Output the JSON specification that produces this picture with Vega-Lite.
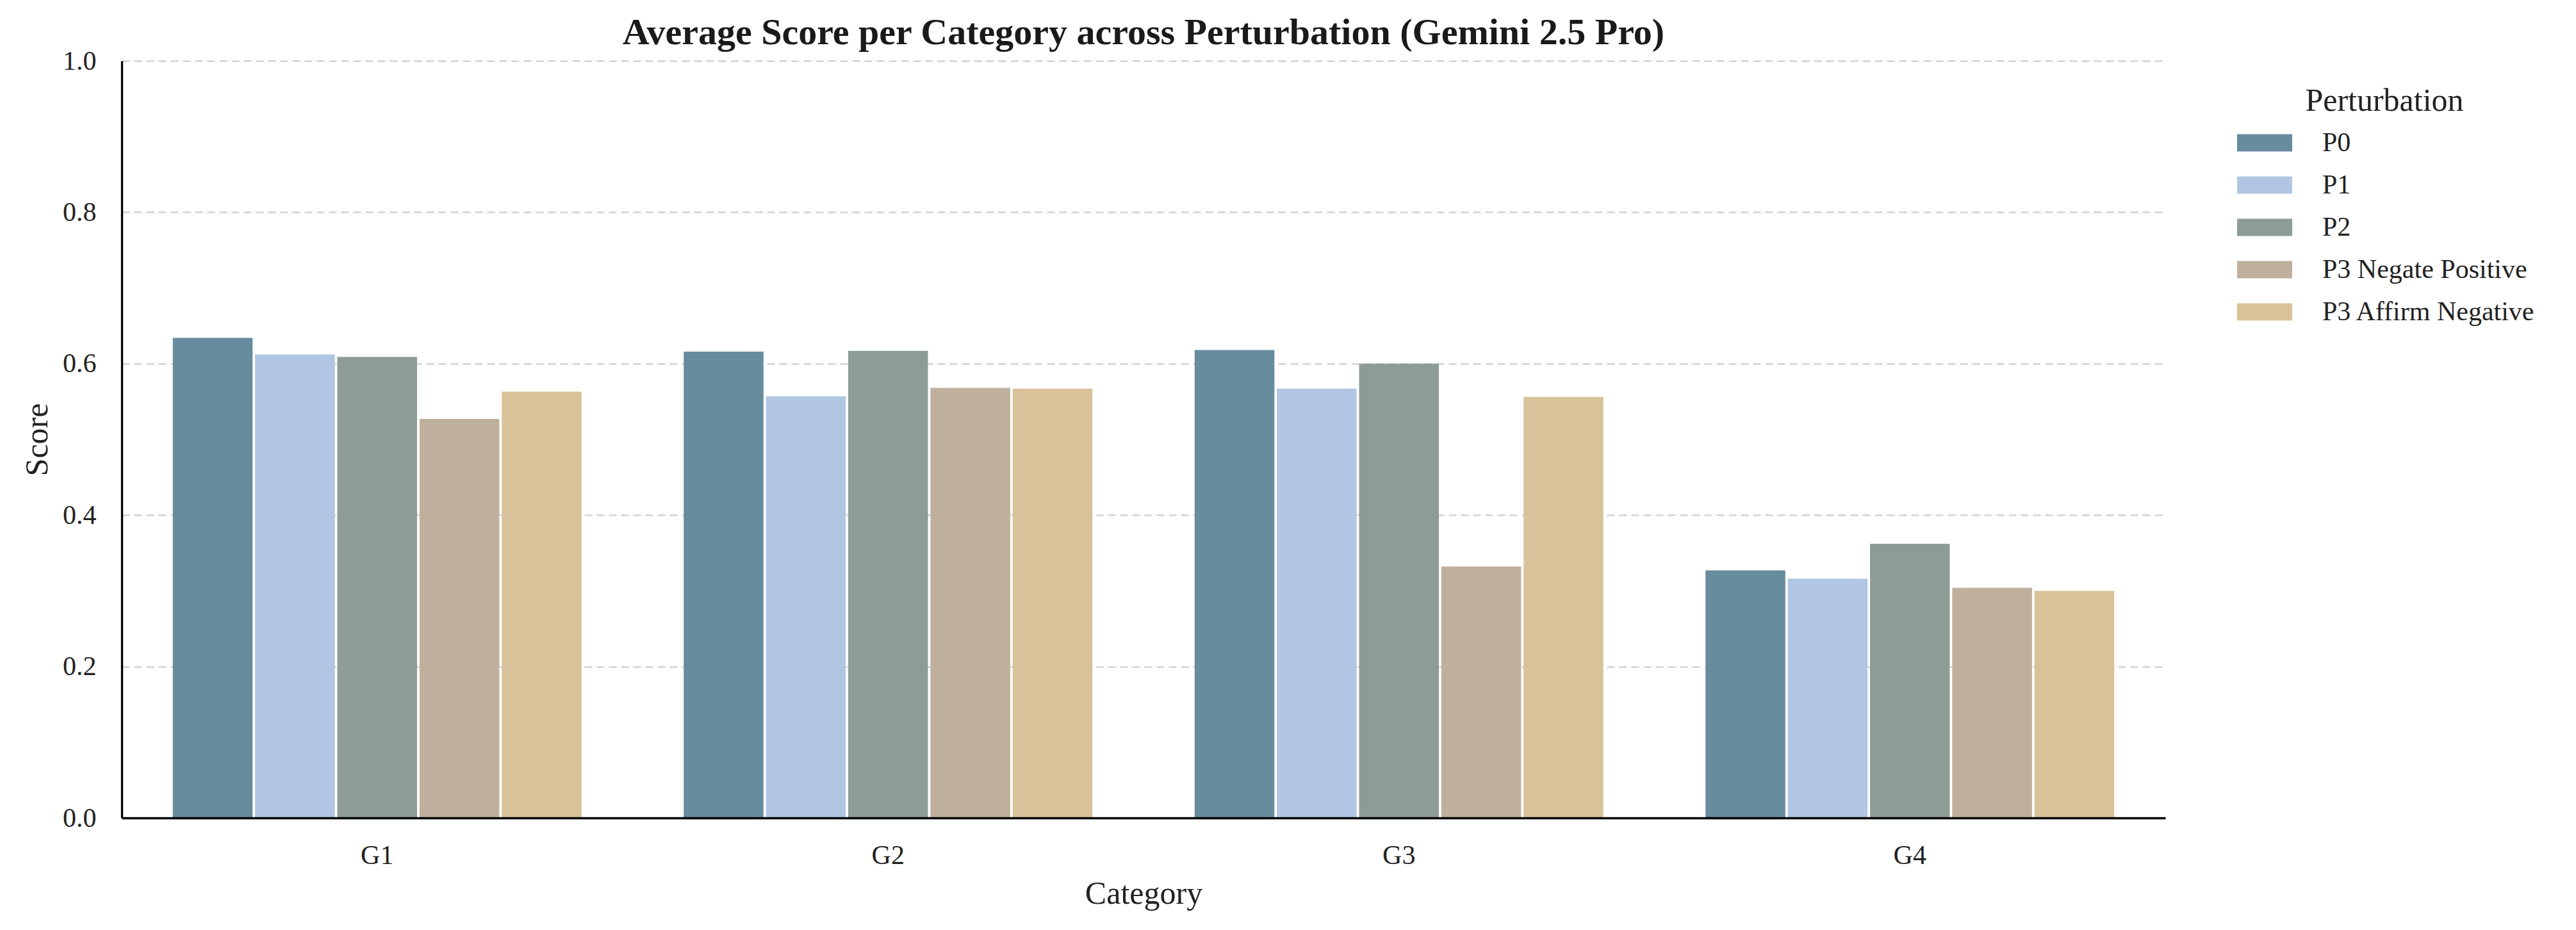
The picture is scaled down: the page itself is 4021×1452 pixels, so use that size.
{
  "$schema": "https://vega.github.io/schema/vega-lite/v6.json",
  "width": 3190,
  "height": 1182,
  "autosize": {"type": "none"},
  "padding": {"left": 190, "top": 95, "right": 641, "bottom": 175},
  "background": "white",
  "title": {
    "text": "Average Score per Category across Perturbation (Gemini 2.5 Pro)",
    "font": "Liberation Serif",
    "fontSize": 58,
    "fontWeight": "bold",
    "color": "#1a1a1a",
    "anchor": "middle",
    "offset": 13,
    "dy": 20
  },
  "data": {
    "values": [
      {"Category": "G1", "Perturbation": "P0", "Score": 0.634},
      {"Category": "G1", "Perturbation": "P1", "Score": 0.612},
      {"Category": "G1", "Perturbation": "P2", "Score": 0.609},
      {"Category": "G1", "Perturbation": "P3 Negate Positive", "Score": 0.527},
      {"Category": "G1", "Perturbation": "P3 Affirm Negative", "Score": 0.563},
      {"Category": "G2", "Perturbation": "P0", "Score": 0.616},
      {"Category": "G2", "Perturbation": "P1", "Score": 0.557},
      {"Category": "G2", "Perturbation": "P2", "Score": 0.617},
      {"Category": "G2", "Perturbation": "P3 Negate Positive", "Score": 0.568},
      {"Category": "G2", "Perturbation": "P3 Affirm Negative", "Score": 0.567},
      {"Category": "G3", "Perturbation": "P0", "Score": 0.618},
      {"Category": "G3", "Perturbation": "P1", "Score": 0.567},
      {"Category": "G3", "Perturbation": "P2", "Score": 0.600},
      {"Category": "G3", "Perturbation": "P3 Negate Positive", "Score": 0.332},
      {"Category": "G3", "Perturbation": "P3 Affirm Negative", "Score": 0.556},
      {"Category": "G4", "Perturbation": "P0", "Score": 0.327},
      {"Category": "G4", "Perturbation": "P1", "Score": 0.316},
      {"Category": "G4", "Perturbation": "P2", "Score": 0.362},
      {"Category": "G4", "Perturbation": "P3 Negate Positive", "Score": 0.304},
      {"Category": "G4", "Perturbation": "P3 Affirm Negative", "Score": 0.300}
    ]
  },
  "mark": {"type": "bar"},
  "encoding": {
    "x": {
      "field": "Category",
      "type": "nominal",
      "sort": ["G1", "G2", "G3", "G4"],
      "scale": {"paddingInner": 0.2, "paddingOuter": 0.1},
      "axis": {
        "title": "Category",
        "labelAngle": 0,
        "domain": true,
        "domainColor": "#000000",
        "domainWidth": 3.3,
        "ticks": false,
        "tickSize": 0,
        "grid": false,
        "labelFont": "Liberation Serif",
        "labelFontSize": 42,
        "labelColor": "#222222",
        "labelPadding": 38,
        "titleFont": "Liberation Serif",
        "titleFontSize": 50,
        "titleFontWeight": "normal",
        "titleColor": "#222222",
        "titlePadding": 14,
        "zindex": 1
      }
    },
    "xOffset": {
      "field": "Perturbation",
      "type": "nominal",
      "sort": ["P0", "P1", "P2", "P3 Negate Positive", "P3 Affirm Negative"],
      "scale": {"paddingInner": 0.03, "paddingOuter": 0}
    },
    "y": {
      "field": "Score",
      "type": "quantitative",
      "scale": {"domain": [0, 1], "nice": false},
      "axis": {
        "title": "Score",
        "values": [0, 0.2, 0.4, 0.6, 0.8, 1.0],
        "format": ".1f",
        "grid": true,
        "gridDash": [12, 7],
        "gridColor": "#d6d9dd",
        "gridWidth": 3,
        "domain": true,
        "domainColor": "#000000",
        "domainWidth": 3.3,
        "ticks": false,
        "tickSize": 0,
        "labelFont": "Liberation Serif",
        "labelFontSize": 42,
        "labelColor": "#222222",
        "labelPadding": 40,
        "titleFont": "Liberation Serif",
        "titleFontSize": 50,
        "titleFontWeight": "normal",
        "titleColor": "#222222",
        "titlePadding": 14
      }
    },
    "color": {
      "field": "Perturbation",
      "type": "nominal",
      "sort": ["P0", "P1", "P2", "P3 Negate Positive", "P3 Affirm Negative"],
      "scale": {
        "domain": ["P0", "P1", "P2", "P3 Negate Positive", "P3 Affirm Negative"],
        "range": ["#668c9e", "#b0c6e3", "#8d9d95", "#bfb09e", "#d9c29a"]
      },
      "legend": {
        "title": "Perturbation",
        "orient": "none",
        "legendX": 3296,
        "legendY": 38,
        "padding": 0,
        "symbolType": "M-1,-0.9H4.733V0.9H-1Z",
        "symbolSize": 900,
        "symbolStrokeWidth": 0,
        "symbolOpacity": 1,
        "labelOffset": 97,
        "rowPadding": 24,
        "titleAnchor": "middle",
        "titleFont": "Liberation Serif",
        "titleFontSize": 50,
        "titleFontWeight": "normal",
        "titleColor": "#222222",
        "titlePadding": 19,
        "titleLimit": 0,
        "labelFont": "Liberation Serif",
        "labelFontSize": 42,
        "labelColor": "#222222",
        "labelLimit": 0
      }
    }
  },
  "config": {
    "view": {"stroke": null},
    "font": "Liberation Serif"
  }
}
